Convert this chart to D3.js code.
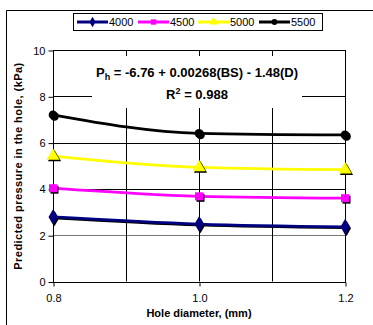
<!DOCTYPE html>
<html><head><meta charset="utf-8">
<script src="https://cdn.jsdelivr.net/npm/d3@7"></script>
<style>body{margin:0;background:#fff}svg{display:block;font-family:"Liberation Sans",Arial,sans-serif}</style>
</head><body>
<svg id="c" width="373" height="325"></svg>
<script>
const diameters = [0.8, 1.0, 1.2];
const seriesNames = ["4000", "4500", "5000", "5500"];
const values4000 = [2.79, 2.48, 2.36];
const values4500 = [4.03, 3.68, 3.60];
const values5000 = [5.42, 4.93, 4.83];
const values5500 = [7.20, 6.40, 6.33];
const xTicks = [0.8, 1.0, 1.2];
const xGrid = [0.9, 1.0, 1.1];
const yTicks = [0, 2, 4, 6, 8, 10];

const colors = ["#000080", "#ff00ff", "#ffff00", "#000000"];
const symbols = [d3.symbolDiamond, d3.symbolSquare, d3.symbolTriangle, d3.symbolCircle];
const symSizes = [70, 64, 75, 60];
const allValues = [values4000, values4500, values5000, values5500];

const svg = d3.select("#c");
svg.append("path").attr("d","M6.5,325 V10.5 H373").attr("fill","none").attr("stroke","#000").attr("stroke-width",1);

const x = d3.scaleLinear().domain([0.8,1.2]).range([53,345]);
const y = d3.scaleLinear().domain([0,10]).range([281.5,50]);

const g = svg.append("g");
g.selectAll(".hg").data(yTicks.filter(d=>d>0 && d<10)).join("line")
  .attr("x1",x(0.8)).attr("x2",x(1.2))
  .attr("y1",d=>Math.round(y(d))+0.5).attr("y2",d=>Math.round(y(d))+0.5)
  .attr("stroke",d=>d===2?"#777":"#000").attr("stroke-width",1);
g.selectAll(".vg").data(xGrid).join("line")
  .attr("x1",d=>Math.round(x(d))+0.5).attr("x2",d=>Math.round(x(d))+0.5)
  .attr("y1",y(10)).attr("y2",y(0))
  .attr("stroke","#000").attr("stroke-width",1);

g.append("rect").attr("x",x(0.8)+0.5).attr("y",Math.round(y(10))+0.5)
  .attr("width",x(1.2)-x(0.8)).attr("height",Math.round(y(0))-Math.round(y(10)))
  .attr("fill","none").attr("stroke","#000");

g.append("rect").attr("x",92).attr("y",56).attr("width",210).attr("height",52).attr("fill","#fff");

const xAxis = d3.axisBottom(x).tickValues(xTicks).tickFormat(d3.format(".1f")).tickSize(4).tickPadding(8);
const gx = svg.append("g").attr("transform",`translate(0.5,${Math.round(y(0))+0.5})`).call(xAxis);
gx.select(".domain").remove();
gx.selectAll("text").attr("font-size",11).attr("fill","#000").attr("font-family","Liberation Sans, Arial");
gx.selectAll("line").attr("stroke","#000");

const yAxis = d3.axisLeft(y).tickValues(yTicks).tickFormat(d3.format("d")).tickSize(5).tickPadding(3);
const gy = svg.append("g").attr("transform",`translate(${x(0.8)+0.5},0.5)`).call(yAxis);
gy.select(".domain").remove();
gy.selectAll("text").attr("font-size",11).attr("fill","#000").attr("font-family","Liberation Sans, Arial");
gy.selectAll("line").attr("stroke","#000");

svg.append("text").attr("x",199).attr("y",317).attr("text-anchor","middle")
  .attr("font-size",11).attr("font-weight","bold").text("Hole diameter, (mm)");
svg.append("text").attr("transform","translate(22,166) rotate(-90)").attr("text-anchor","middle")
  .attr("font-size",11).attr("font-weight","bold").attr("letter-spacing","0.45")
  .text("Predicted pressure in the hole, (kPa)");

const eq = svg.append("text").attr("x",197).attr("y",77).attr("text-anchor","middle")
  .attr("font-size",13).attr("font-weight","bold");
eq.append("tspan").text("P");
eq.append("tspan").attr("font-size",9).attr("dy",3).text("h");
eq.append("tspan").attr("dy",-3).text(" = -6.76 + 0.00268(BS) - 1.48(D)");
const r2 = svg.append("text").attr("x",197).attr("y",99).attr("text-anchor","middle")
  .attr("font-size",13).attr("font-weight","bold");
r2.append("tspan").text("R");
r2.append("tspan").attr("font-size",9).attr("dy",-5).text("2");
r2.append("tspan").attr("dy",5).text(" = 0.988");

const line = d3.line().x((d,i)=>x(diameters[i])).y(d=>y(d)).curve(d3.curveMonotoneX);
allValues.forEach((vals,k)=>{
  const sg = svg.append("g");
  if (k===0) sg.append("path").attr("d",line(vals)).attr("transform","translate(0,1)").attr("fill","none").attr("stroke","#000").attr("stroke-width",2.5);
  sg.append("path").attr("d",line(vals)).attr("fill","none").attr("stroke",colors[k]).attr("stroke-width",2.8);
  const sym = d3.symbol().type(symbols[k]).size(symSizes[k]);
  sg.selectAll(".sh").data(vals).join("path").attr("d",sym)
    .attr("transform",(d,i)=>`translate(${x(diameters[i])+1.5},${y(d)+1.5})`).attr("fill","#000");
  sg.selectAll(".mk").data(vals).join("path").attr("d",sym)
    .attr("transform",(d,i)=>`translate(${x(diameters[i])},${y(d)})`).attr("fill",colors[k]);
});

svg.append("rect").attr("x",73.5).attr("y",13.5).attr("width",249).attr("height",17)
  .attr("fill","#fff").attr("stroke","#000");
const legX = [77, 138, 198, 259];
seriesNames.forEach((n,k)=>{
  const lg = svg.append("g");
  lg.append("line").attr("x1",legX[k]).attr("x2",legX[k]+31).attr("y1",22).attr("y2",22)
    .attr("stroke",colors[k]).attr("stroke-width",3);
  lg.append("path").attr("d",d3.symbol().type(symbols[k]).size(symSizes[k]*0.45))
    .attr("transform",`translate(${legX[k]+15.5},22)`).attr("fill",colors[k]);
  lg.append("text").attr("x",legX[k]+32).attr("y",26).attr("font-size",11).text(n);
});
</script>
</body></html>
